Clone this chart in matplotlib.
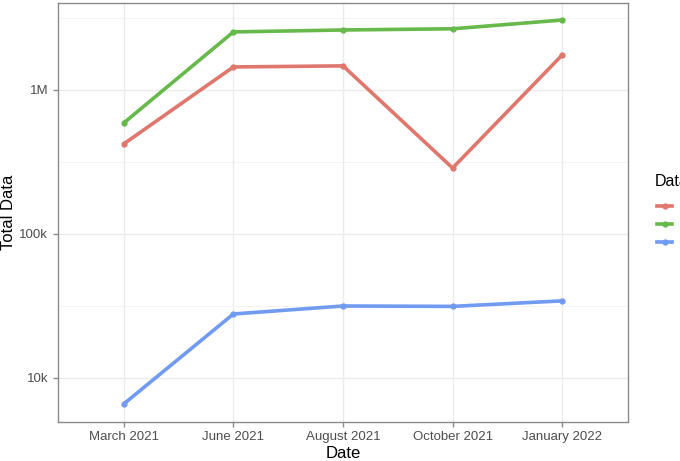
import matplotlib
matplotlib.use("Agg")
import matplotlib.pyplot as plt
import numpy as np
from matplotlib.ticker import FixedLocator, FixedFormatter, NullLocator

plt.rcParams['font.family'] = ['Liberation Sans', 'DejaVu Sans']

dates = ["March 2021", "June 2021", "August 2021", "October 2021", "January 2022"]
series_a = [422000, 1445000, 1470000, 287000, 1750000]
series_b = [590000, 2530000, 2610000, 2660000, 3060000]
series_c = [6600, 27800, 31600, 31400, 34300]
colors = ["#E0776D", "#66B94A", "#719AF1"]
legend_title = "Data"

fig = plt.figure(figsize=(6.8, 4.61), dpi=100)
W, H = 680, 461
ax = fig.add_axes([58 / W, 1 - 422 / H, (628 - 58) / W, (422 - 3) / H])

x = np.arange(1, len(dates) + 1)
lines = []
for vals, c in zip([series_a, series_b, series_c], colors):
    ln, = ax.plot(x, vals, color=c, lw=2.6, marker='o', ms=3.5, solid_capstyle='butt', zorder=3)
    lines.append(ln)

ax.set_yscale('log')
ax.set_xlim(0.4, 5.6)
ax.set_ylim(10 ** 3.694, 10 ** 6.604)
ax.yaxis.set_major_locator(FixedLocator([1e4, 1e5, 1e6]))
ax.yaxis.set_major_formatter(FixedFormatter(["10k", "100k", "1M"]))
ax.yaxis.set_minor_locator(NullLocator())
ax.set_xticks(x)
ax.set_xticklabels(dates)

for v in [1e4, 1e5, 1e6]:
    ax.axhline(v, color='#ebebeb', lw=1.0, zorder=1)
for v in [10 ** 3.5, 10 ** 4.5, 10 ** 5.5, 10 ** 6.5]:
    ax.axhline(v, color='#f2f2f2', lw=0.6, zorder=1)
for xi in x:
    ax.axvline(xi, color='#ebebeb', lw=1.0, zorder=1)

for s in ax.spines.values():
    s.set_color('#8a8a8a')
    s.set_linewidth(1.0)
ax.tick_params(axis='both', colors='#8a8a8a', labelcolor='#4d4d4d', labelsize=9.5, length=3.5, width=1.0)
ax.tick_params(axis='x', pad=3)

ax.set_xlabel("Date", fontsize=12, color='black', labelpad=2)
fig.text(9 / W, 1 - 212 / H, "Total Data", fontsize=12, rotation=90, va='center', ha='center', color='black')

fig.text(655 / W, 1 - 182 / H, legend_title, fontsize=11.5, va='center', ha='left', color='black')
for i, (c, yy) in enumerate(zip(colors, [206, 224, 242])):
    fig.lines.append(plt.Line2D([657 / W, 672 / W], [1 - yy / H] * 2, color=c, lw=2.6,
                                transform=fig.transFigure, figure=fig))
    fig.lines.append(plt.Line2D([664.5 / W], [1 - yy / H], color=c, marker='o', ms=3.5,
                                transform=fig.transFigure, figure=fig))

fig.savefig("out.png", dpi=100)
